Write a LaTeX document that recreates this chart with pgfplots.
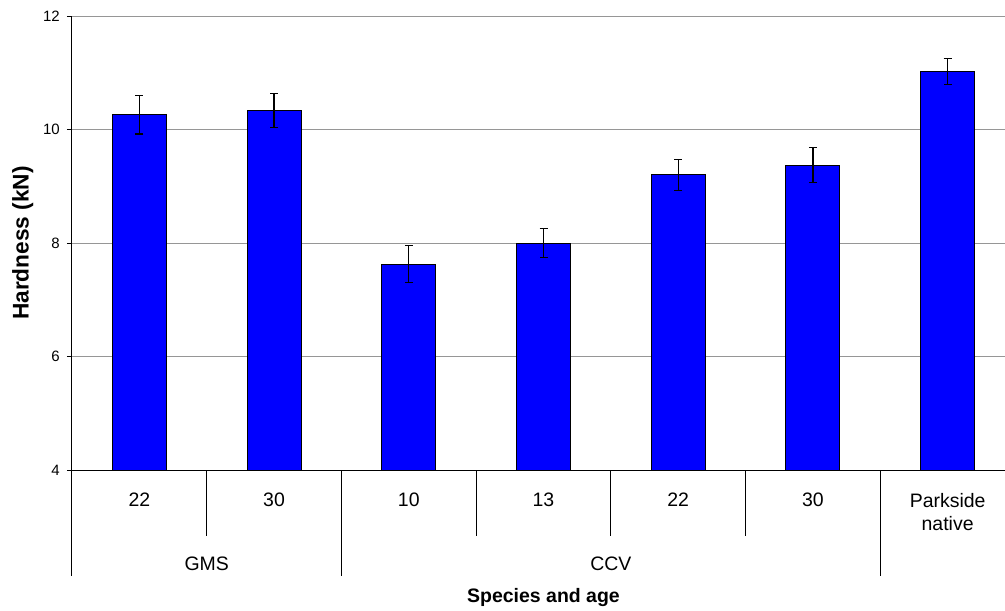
\documentclass[border=0pt]{standalone}
\usepackage{pgfplots}
\pgfplotsset{compat=1.18}
\usepackage{fontspec}
\setmainfont{Liberation Sans}
\definecolor{barblue}{RGB}{0,0,255}
\definecolor{gridgray}{RGB}{150,150,150}
\begin{document}
\begin{tikzpicture}
\begin{axis}[
  at={(0pt,0pt)}, anchor=south west,
  scale only axis,
  width=707.25pt, height=340.5pt,
  xmin=-0.5, xmax=6.5, ymin=4, ymax=12,
  axis x line*=bottom, axis y line*=left,
  axis line style={line width=0.75pt, -, black},
  clip mode=individual,
  ybar, bar width=40.5pt,
  ytick={4,6,8,10,12},
  ymajorgrids, grid style={line width=0.75pt, gridgray},
  tick align=outside, major tick length=3.75pt,
  ytick style={line width=0.75pt, black},
  xtick={0,...,6}, xtick style={draw=none},
  xticklabels={22,30,10,13,22,30,{Parkside\\native}},
  xticklabel style={font=\fontsize{14.6}{17.8}\selectfont, align=center,
    anchor=north, inner sep=0pt, yshift=-13.25pt},
  yticklabel style={font=\fontsize{11.25}{13}\selectfont, inner sep=0pt,
    anchor=east, xshift=-5.25pt},
  /pgf/number format/assume math mode=true,
  xlabel={Species and age},
  xlabel style={font=\bfseries\fontsize{14.6}{17}\selectfont,
    at={([yshift=-99.5pt]axis description cs:0.5,0)}, anchor=base},
  ylabel={Hardness (kN)},
  ylabel style={font=\bfseries\fontsize{17}{20}\selectfont,
    at={([xshift=-32.6pt]axis description cs:0,0.5)}, anchor=base},
]
\addplot[fill=barblue, draw=black, line width=0.75pt,
  error bars/.cd, y dir=both, y explicit,
  error bar style={line width=0.9pt, black},
  error mark options={rotate=90, mark size=3pt, line width=0.9pt, black}]
  coordinates {
    (0,10.26) +- (0,0.34)
    (1,10.33) +- (0,0.30)
    (2,7.63)  +- (0,0.32)
    (3,8.00)  +- (0,0.25)
    (4,9.20)  +- (0,0.27)
    (5,9.37)  +- (0,0.31)
    (6,11.02) +- (0,0.23)
  };
% category separators below the axis
\pgfplotsinvokeforeach{0.5,2.5,3.5,4.5}{
  \draw[line width=0.75pt] (axis cs:#1,4) -- ++(0pt,-49.5pt);
}
\pgfplotsinvokeforeach{-0.5,1.5,5.5,6.5}{
  \draw[line width=0.75pt] (axis cs:#1,4) -- ++(0pt,-79.3pt);
}
% group names
\node[anchor=base, font=\fontsize{14.6}{17}\selectfont]
  at ([yshift=-75.5pt]axis cs:0.5,4) {GMS};
\node[anchor=base, font=\fontsize{14.6}{17}\selectfont]
  at ([yshift=-75.5pt]axis cs:3.5,4) {CCV};
\end{axis}
\pgfresetboundingbox
\path[use as bounding box] (-54pt,-105pt) rectangle (699.75pt,352.5pt);
\end{tikzpicture}
\end{document}
